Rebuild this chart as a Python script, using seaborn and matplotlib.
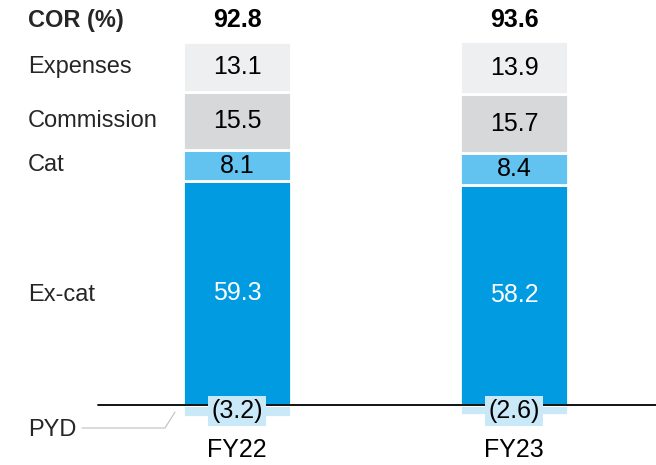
import matplotlib
matplotlib.use("Agg")
import matplotlib.pyplot as plt
import seaborn as sns
import numpy as np

years = ["FY22", "FY23"]
cor_total = [92.8, 93.6]
pyd = [-3.2, -2.6]
ex_cat = [59.3, 58.2]
cat = [8.1, 8.4]
commission = [15.5, 15.7]
expenses = [13.1, 13.9]

segments = [
    ("Ex-cat", ex_cat, "#009BE1", "white"),
    ("Cat", cat, "#63C3F0", "black"),
    ("Commission", commission, "#D7D8DA", "black"),
    ("Expenses", expenses, "#EEEFF1", "black"),
]

sns.set_theme(style="white")
plt.rcParams["font.family"] = ["Liberation Sans", "DejaVu Sans"]

W, H = 656, 465
fig = plt.figure(figsize=(W / 100, H / 100), dpi=100)
ax = fig.add_axes([0, 0, 1, 1])

# pixel mapping helpers (for layout only)
x0_px, dx_px = 237, 277
zero_px, ppu = 405, 3.78


def px_x(px):
    return (px - x0_px) / dx_px


def px_y(py):
    return (zero_px - py) / ppu


FS_LAB = 17
FS_VAL = 18

# PYD (negative) bars
sns.barplot(x=years, y=pyd, color="#C9E9F8", width=0.39, ax=ax,
            edgecolor="white", linewidth=2, saturation=1)

bottom = np.zeros(len(years))
for name, vals, col, tcol in segments:
    vals = np.array(vals)
    sns.barplot(x=years, y=vals, bottom=bottom, color=col, width=0.39, ax=ax,
                edgecolor="white", linewidth=2, saturation=1)
    for i, v in enumerate(vals):
        ax.text(i, bottom[i] + v / 2, f"{v:.1f}", ha="center", va="center",
                fontsize=FS_VAL, color=tcol)
    bottom = bottom + vals

# zero line
ax.plot([px_x(98), px_x(656)], [0, 0], color="black", lw=1.3, zorder=5)

# PYD labels
for i, v in enumerate(pyd):
    ax.text(i, px_y(411), f"({abs(v):.1f})", ha="center", va="center",
            fontsize=FS_VAL, color="black", zorder=6,
            bbox=dict(boxstyle="square,pad=0.12", fc="#C9E9F8", ec="none"))

# totals
for i, v in enumerate(cor_total):
    ax.text(i, px_y(20), f"{v:.1f}", ha="center", va="center",
            fontsize=FS_VAL, fontweight="bold", color="black")

# year labels
for i, y in enumerate(years):
    ax.text(i, px_y(450), y, ha="center", va="center", fontsize=FS_VAL,
            color="black")

# left labels
lx = px_x(28)
ax.text(lx, px_y(20), "COR (%)", ha="left", va="center", fontsize=FS_LAB,
        fontweight="bold")
left_labels = [("Expenses", 67), ("Commission", 121), ("Cat", 165),
               ("Ex-cat", 295), ("PYD", 430)]
for lab, py in left_labels:
    ax.text(lx, px_y(py), lab, ha="left", va="center", fontsize=FS_LAB)

# PYD leader line
ax.plot([px_x(82), px_x(165), px_x(175)], [px_y(428), px_y(428), px_y(412)],
        color="#BFBFBF", lw=0.8, zorder=4)

ax.set_xlim(px_x(0), px_x(W))
ax.set_ylim(px_y(H), px_y(0))
ax.axis("off")

fig.savefig("out.png", dpi=100)
